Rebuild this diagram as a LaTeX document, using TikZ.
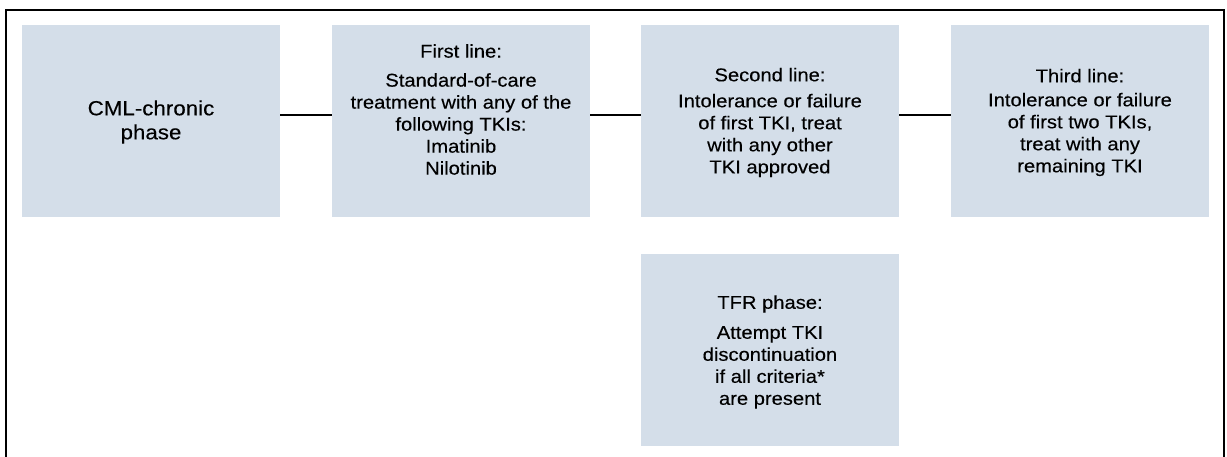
\documentclass[tikz,border=0pt]{standalone}
\usepackage{fontspec}
\setmainfont[FakeStretch=1.09,FakeBold=0.25]{Liberation Sans}
\definecolor{boxfill}{RGB}{212,222,233}
\begin{document}
\begin{tikzpicture}[x=1pt,y=-1pt,
  box/.style={fill=boxfill,draw=none,minimum width=258pt,minimum height=192pt,inner sep=0pt,outer sep=0pt},
  txt/.style={align=center,inner sep=0pt,font=\fontsize{18.5}{22}\selectfont},
  bigtxt/.style={align=center,inner sep=0pt,font=\fontsize{20.5}{24}\selectfont},
  conn/.style={line width=2.6pt,black}]
\useasboundingbox (0,0) rectangle (1227,456);
\draw[line width=2pt] (6,460) -- (6,10) -- (1224,10) -- (1224,460);
\node[box] (b1) at (151,121) {};
\node[box] (b2) at (461,121) {};
\node[box] (b3) at (770,121) {};
\node[box] (b4) at (1080,121) {};
\node[box] (b5) at (770,350) {};
\node[bigtxt] (t1) at (151,122) {CML-chronic\\phase};
\node[txt] (t2) at (461,109.5) {First line:\\[7pt]Standard-of-care\\treatment with any of the\\following TKIs:\\Imatinib\\Nilotinib};
\node[txt] (t3) at (770,122.5) {Second line:\\[4pt]Intolerance or failure\\of first TKI, treat\\with any other\\TKI approved};
\node[txt] (t4) at (1080,122.5) {Third line:\\[2pt]Intolerance or failure\\of first two TKIs,\\treat with any\\remaining TKI};
\node[txt] (t5) at (770,352) {TFR phase:\\[8pt]Attempt TKI\\discontinuation\\if all criteria*\\are present};
\coordinate (ly) at (0,115);
\draw[conn] (b1.east |- ly) -- (b2.west |- ly);
\draw[conn] (b2.east |- ly) -- (b3.west |- ly);
\draw[conn] (b3.east |- ly) -- (b4.west |- ly);
\end{tikzpicture}
\end{document}
